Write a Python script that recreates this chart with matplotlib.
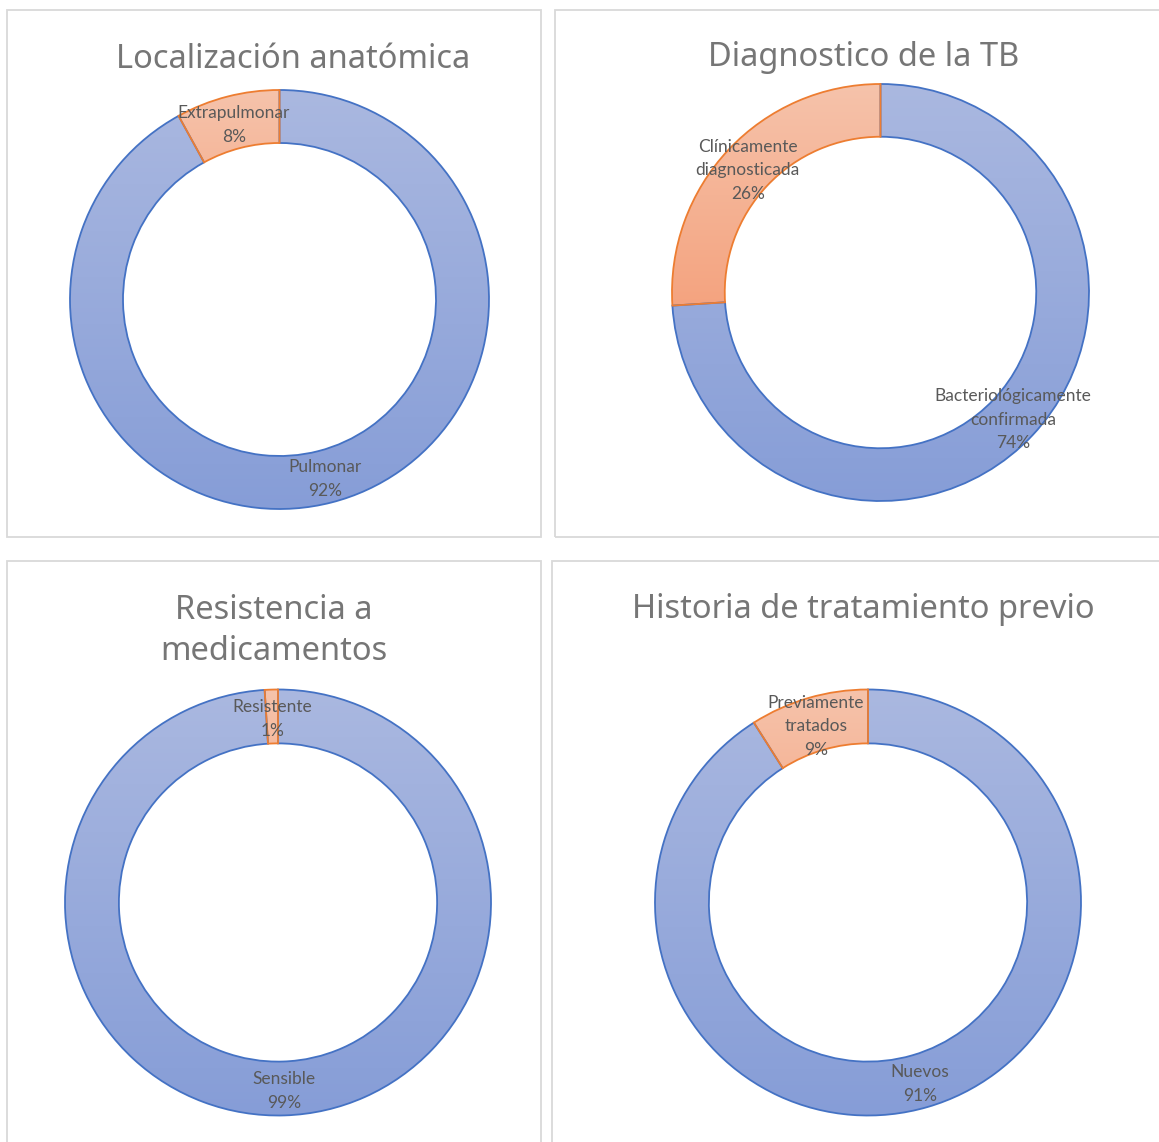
import numpy as np
import matplotlib.pyplot as plt
from matplotlib.patches import Rectangle
from matplotlib.colors import to_rgb
from matplotlib.transforms import offset_copy

W, H = 1159, 1142

titles = ["Localización anatómica", "Diagnostico de la TB",
          "Resistencia a\nmedicamentos", "Historia de tratamiento previo"]

loc_labels = ["Pulmonar", "Extrapulmonar"]
loc_values = [92, 8]
diag_labels = ["Bacteriológicamente\nconfirmada", "Clínicamente\ndiagnosticada"]
diag_values = [74, 26]
res_labels = ["Sensible", "Resistente"]
res_values = [99, 1]
hist_labels = ["Nuevos", "Previamente\ntratados"]
hist_values = [91, 9]

# colours: edge and (top, bottom) of the vertical gradient fill
edge_colors = ["#4472C4", "#ED7D31"]
grad_colors = [("#AAB8E0", "#869DD7"), ("#F6C3AB", "#F4A37F")]

title_color = "#767676"
label_color = "#595959"
frame_color = "#D9D9D9"

hole = 0.747
label_r = (1 + hole) / 2

# pixel layout of each panel
layout = [
    dict(frame=(7, 10, 541, 537), title=(293, 60), center=(279.5, 299.5), r=209.5),
    dict(frame=(555, 10, 1170, 537), title=(864, 57), center=(880.5, 292.5), r=208.5),
    dict(frame=(7, 561, 541, 1160), title=(274, 631), center=(278, 902.5), r=213),
    dict(frame=(552, 561, 1170, 1160), title=(863, 609), center=(868, 902.5), r=213),
]
data = [(loc_values, loc_labels), (diag_values, diag_labels),
        (res_values, res_labels), (hist_values, hist_labels)]

fig = plt.figure(figsize=(W / 100, H / 100), dpi=100)
fig.patch.set_facecolor("white")


def gradient(top, bottom, n=256):
    t = np.linspace(0, 1, n)[:, None, None]
    return (1 - t) * np.array(to_rgb(top)) + t * np.array(to_rgb(bottom))


def donut(center, r, values, labels):
    cx, cy = center
    half = r + 6
    ax = fig.add_axes([(cx - half) / W, 1 - (cy + half) / H, 2 * half / W, 2 * half / H])
    wedges, _ = ax.pie(values, startangle=90, counterclock=False, radius=1,
                       wedgeprops=dict(width=1 - hole, linewidth=1.3))
    for w, ec, (c0, c1) in zip(wedges, edge_colors, grad_colors):
        verts = w.get_path().vertices
        x0, y0 = verts.min(axis=0)
        x1, y1 = verts.max(axis=0)
        img = ax.imshow(gradient(c0, c1), extent=[x0, x1, y0, y1],
                        aspect="auto", interpolation="bilinear", zorder=1)
        img.set_clip_path(w)
        w.set_facecolor("none")
        w.set_edgecolor(ec)
        w.set_zorder(2)
    # labels sit a couple of pixels lower than the bbox centre
    shifted = offset_copy(ax.transData, fig=fig, x=0, y=-2.5, units="dots")
    for w, lab, v in zip(wedges, labels, values):
        mid = np.deg2rad((w.theta1 + w.theta2) / 2)
        ax.text(label_r * np.cos(mid), label_r * np.sin(mid), f"{lab}\n{v}%",
                ha="center", va="center", fontsize=12.5, family="Lato",
                color=label_color, linespacing=1.6, zorder=3, transform=shifted)
    lim = half / r
    ax.set_xlim(-lim, lim)
    ax.set_ylim(-lim, lim)
    ax.set_aspect("equal")
    ax.axis("off")


for lay, title, (vals, labs) in zip(layout, titles, data):
    x0, y0, x1, y1 = lay["frame"]
    fig.patches.append(Rectangle((x0 / W, 1 - y1 / H), (x1 - x0) / W, (y1 - y0) / H,
                                 transform=fig.transFigure, facecolor="none",
                                 edgecolor=frame_color, linewidth=1.3))
    tx, ty = lay["title"]
    fig.text(tx / W, 1 - ty / H, title, ha="center", va="center", fontsize=23.5,
             family="Noto Sans", color=title_color, linespacing=1.35)
    donut(lay["center"], lay["r"], vals, labs)

fig.savefig("out.png", dpi=100)
